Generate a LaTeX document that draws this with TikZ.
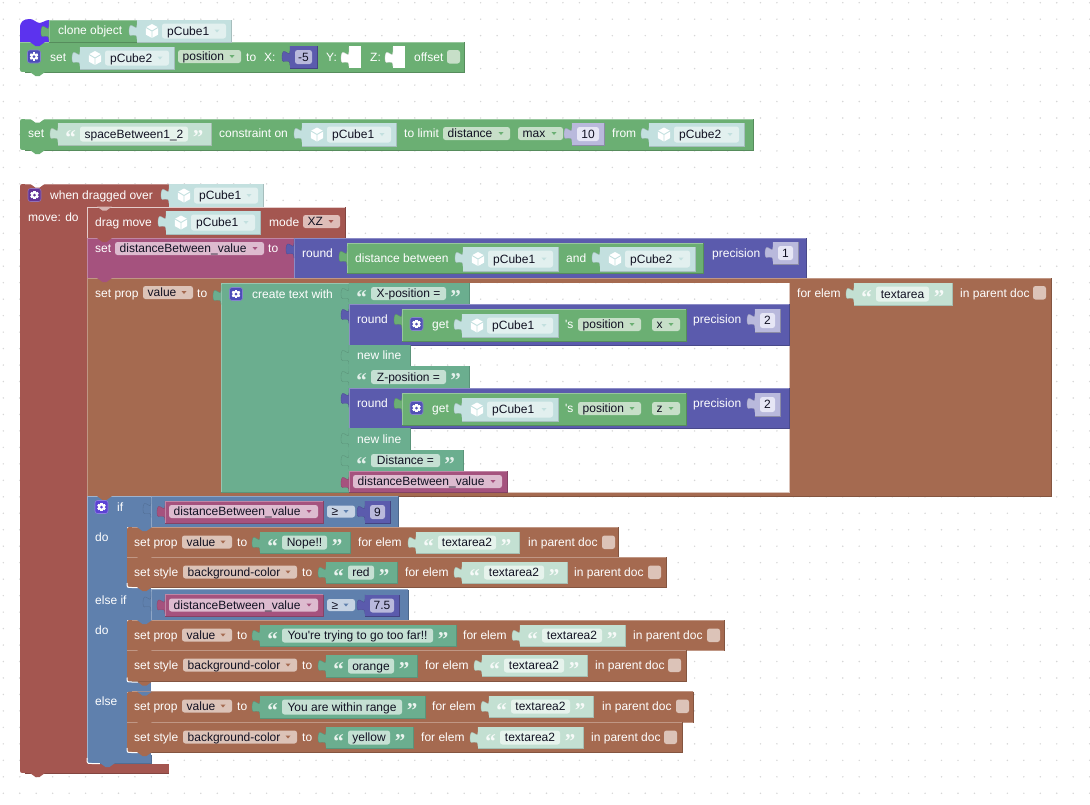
\documentclass[tikz,border=0pt]{standalone}
\usepackage{fontspec}
\newfontfamily\libf{Liberation Sans}
\newfontfamily\qfnt{Liberation Serif}
\definecolor{cGreen}{HTML}{6BAF73}
\definecolor{cGreenF}{HTML}{C7DFC8}
\definecolor{cText}{HTML}{6BAE8F}
\definecolor{cTextF}{HTML}{C5E0D3}
\definecolor{cTextL}{HTML}{C3E0D2}
\definecolor{cTextLF}{HTML}{E6F3EC}
\definecolor{cNavy}{HTML}{5B5BAD}
\definecolor{cNumL}{HTML}{B9B9DC}
\definecolor{cNumF}{HTML}{E6E6F5}
\definecolor{cMaroon}{HTML}{A45650}
\definecolor{cBrown}{HTML}{A56A50}
\definecolor{cBrownF}{HTML}{DCC3B8}
\definecolor{cPurple}{HTML}{A5527E}
\definecolor{cPurpleF}{HTML}{DDBBCF}
\definecolor{cBlue}{HTML}{5F80AD}
\definecolor{cBlueF}{HTML}{C5D2E3}
\definecolor{cObj}{HTML}{C3E0DF}
\definecolor{cObjF}{HTML}{E2F0EF}
\definecolor{cHat}{HTML}{5C33EE}
\definecolor{cMarF}{HTML}{DEBDB8}
\definecolor{cDot}{HTML}{D6D6D6}
\definecolor{cInk}{HTML}{111122}
\tikzset{
  wlab/.style={anchor=base west,inner sep=0pt,text=white,font=\libf\fontsize{12}{14}\selectfont},
  flab/.style={inner sep=0pt,text=cInk,font=\libf\fontsize{12}{14}\selectfont},
  qlab/.style={anchor=base,inner sep=0pt,font=\qfnt\bfseries\fontsize{21}{21}\selectfont},
  fieldbox/.style={rounded corners=2.5pt},
}
% tab on the left of an input block
\newcommand\ptab[3]{\filldraw[fill=#3,draw=#3!85!black,line width=.35pt] (#1,#2+0) -- (#1,#2+4.5) .. controls (#1,#2+14.5) and (#1-8,#2-3.5) .. (#1-8,#2+12) .. controls (#1-8,#2+20.5) and (#1,#2+9.5) .. (#1,#2+19.5);}
% bevelled rectangle
\newcommand\rblk[5]{\fill[#5] (#1,#2) rectangle (#3,#4);
  \draw[#5!70!white,line width=.7pt] (#1,#4) -- (#1,#2) -- (#3,#2);
  \draw[#5!80!black,line width=.7pt] (#1,#4) -- (#3,#4) -- (#3,#2);}
% rectangle with rounded left corners: x1 y1 x2 y2 colour rtop rbottom
\newcommand\lblk[7]{\fill[#5] (#3,#2) -- (#1+#6,#2) .. controls (#1,#2) and (#1,#2) .. (#1,#2+#6) -- (#1,#4-#7) .. controls (#1,#4) and (#1,#4) .. (#1+#7,#4) -- (#3,#4) -- cycle;
  \draw[#5!80!black,line width=.7pt] (#1+#7,#4) -- (#3,#4) -- (#3,#2);
  \draw[#5!70!white,line width=.7pt] (#3,#2) -- (#1+#6,#2);}
\newcommand\bump[3]{\fill[#3] (#1,#2) -- (#1+5.5,#2+4) -- (#1+9.5,#2+4) -- (#1+15,#2) -- cycle;}
\newcommand\lab[3]{\node[wlab] at (#1,#2+4.2) {#3};}
\newcommand\cubeic[2]{\begin{scope}[shift={({#1},{#2})}]
  \fill[white] (0,-7) -- (6.2,-3.6) -- (6.2,3.6) -- (0,7) -- (-6.2,3.6) -- (-6.2,-3.6) -- cycle;
  \draw[cObj,line width=.9pt] (-6.2,-3.6) -- (0,0) -- (6.2,-3.6) (0,0) -- (0,7);
  \end{scope}}
\newcommand\gearic[3]{\begin{scope}[shift={({#1},{#2})}]
  \filldraw[fill=#3,draw=#3!70!white,line width=.6pt,rounded corners=2.5pt] (-6.5,-6.5) rectangle (6.5,6.5);
  \foreach \a in {0,60,...,300}{\fill[white,rotate=\a] (-1.1,-4.2) rectangle (1.1,4.2);}
  \fill[white] (0,0) circle (3.3);
  \fill[#3] (0,0) circle (1.5);
  \end{scope}}
% dropdown: x1 x2 y1 y2 text bg triangle
\newcommand\dd[7]{\fill[#6,fieldbox] (#1,#3) rectangle (#2,#4);
  \node[flab,anchor=base west] at ({#1+4.5},{((#3)+(#4))/2+4.2}) {#5};
  \fill[#7] ({#2-11.5},{((#3)+(#4))/2-1.5}) -- ({#2-6.5},{((#3)+(#4))/2-1.5}) -- ({#2-9},{((#3)+(#4))/2+1.5}) -- cycle;}
% object block
\newcommand\ob[5]{\ptab{#1}{#3}{cObj}\fill[cObj] (#1,#3) rectangle (#2,#4);
  \draw[cObj!85!black,line width=.5pt] (#1,#4) -- (#2,#4) -- (#2,#3);
  \cubeic{#1+15}{((#3)+(#4))/2}
  \fill[cObjF,fieldbox] (#1+25,#3+3.5) rectangle (#2-5,#4-3.5);
  \node[flab,anchor=base west] at ({#1+30},{((#3)+(#4))/2+4.2}) {#5};
  \fill[cObj] ({#2-16.5},{((#3)+(#4))/2-1.5}) -- ({#2-11.5},{((#3)+(#4))/2-1.5}) -- ({#2-14},{((#3)+(#4))/2+1.5}) -- cycle;}
% text block: x1 x2 y1 y2 text bg field
\newcommand\tb[7]{\ptab{#1}{#3}{#6}\fill[#6] (#1,#3) rectangle (#2,#4);
  \draw[#6!85!black,line width=.5pt] (#1,#4) -- (#2,#4) -- (#2,#3);
  \fill[#7,fieldbox] (#1+22,#3+3.5) rectangle (#2-23,#4-3.5);
  \node[flab,anchor=base] at ({#1/2+#2/2-0.5},{((#3)+(#4))/2+4.2}) {#5};
  \node[qlab,text=white!85!#6] at ({#1+12.5},{((#3)+(#4))/2+10.5}) {“};
  \node[qlab,text=white!85!#6] at ({#2-13},{((#3)+(#4))/2+10.5}) {”};}
% number block: x1 x2 y1 y2 text bg field
\newcommand\nm[7]{\ptab{#1}{#3}{#6}\fill[#6] (#1,#3) rectangle (#2,#4);
  \draw[#6!75!black,line width=.5pt] (#1,#4) -- (#2,#4) -- (#2,#3);
  \fill[#7,fieldbox] (#1+5,#3+4) rectangle (#2-5,#4-4);
  \node[flab,anchor=base] at ({#1/2+#2/2},{((#3)+(#4))/2+4.2}) {#5};}
\newcommand\chk[3]{\fill[#3,rounded corners=2.5pt] (#1,#2) rectangle (#1+13,#2+13.5);}
% variable block
\newcommand\vb[4]{\ptab{#1}{#3}{cPurple}\rblk{#1}{#3}{#2}{#4}{cPurple}
  \dd{#1+4}{#2-5}{#3+4}{#3+17}{distanceBetween\_value}{cPurpleF}{cPurple}}
% brown row end: text for elem x, tb x1 x2, doc x, chk x, centre y
\newcommand\rowend[6]{\lab{#1}{#6}{for elem}
  \tb{#2}{#3}{#6-10}{#6+11}{textarea2}{cTextL}{cTextLF}
  \lab{#4}{#6}{in parent doc}\chk{#5}{#6-6.5}{cBrownF}}
\newcommand\spropstart[1]{\lab{134}{#1}{set prop}\dd{182}{232}{#1-6.5}{#1+6.5}{value}{cBrownF}{cBrown}\lab{237}{#1}{to}}
\newcommand\sstylestart[1]{\lab{134}{#1}{set style}\dd{183}{297}{#1-6.5}{#1+6.5}{background-color}{cBrownF}{cBrown}\lab{302}{#1}{to}}
% round/get row
\newcommand\rowround[3]{% y1 y2 axis
  \ptab{349}{#1}{cNavy}\rblk{349}{#1}{789}{#2}{cNavy}
  \lab{357}{#1+15}{round}
  \ptab{402}{#1+5}{cGreen}\rblk{402}{#1+5}{686}{#1+37}{cGreen}
  \gearic{416.5}{#1+20}{cNavy!90!blue}
  \lab{432}{#1+20}{get}
  \ob{462}{558}{#1+10}{#1+33}{pCube1}
  \lab{565}{#1+20}{'s}
  \dd{578}{641}{#1+14}{#1+27}{position}{cGreenF}{cGreen}
  \dd{652}{680}{#1+14}{#1+27}{#3}{cGreenF}{cGreen}
  \lab{693}{#1+15}{precision}
  \nm{755}{780}{#1+5}{#1+28}{2}{cNumL}{cNumF}}
\newcommand\rowif[5]{% y1 y2 num-x2 field text
  \rblk{151}{#1}{#3}{#2}{cBlue}
  \ptab{151}{#1+2}{cBlue}
  \vb{165}{323}{#1+5}{#1+27}
  \dd{327}{355}{#1+9.5}{#1+21.5}{≥}{cBlueF}{cBlue}
  \nm{365}{#4}{#1+5}{#1+27}{#5}{cNavy}{cNumL}}
\begin{document}
\begin{tikzpicture}[x=1pt,y=-1pt]
\useasboundingbox (0,0) rectangle (1090,804);
\fill[white] (0,0) rectangle (1090,804);
\foreach \i in {0,...,66}{\foreach \j in {0,...,48}{\fill[cDot] (3.3+\i*16.46,2.7+\j*16.47) circle (.8);}}

%% ---- clone / set stack
\fill[cHat] (49,42) -- (20,42) -- (20,28) .. controls (20,21) and (24,19) .. (30,19) .. controls (34,19) and (36,23) .. (40,23) .. controls (43,23) and (45,20) .. (49,20) -- cycle;
\lblk{20}{42}{464}{72}{cGreen}{0}{5}
\bump{30}{72}{cGreen}
\bump{30}{42}{cHat}
\rblk{49}{20}{137}{42}{cGreen}
\ptab{49}{21}{cGreen}
\lab{58}{30}{clone object}
\ob{137}{231}{20}{42}{pCube1}
\gearic{34}{56.5}{cNavy!85!blue}
\lab{50}{57}{set}
\ob{80}{174}{47}{69}{pCube2}
\dd{178}{241}{50}{63}{position}{cGreenF}{cGreen}
\lab{246}{57}{to}
\lab{264}{57}{X:}
\nm{290}{317}{46}{68}{-5}{cNavy}{cNumL}
\lab{326}{57}{Y:}
\fill[white] (349,46) rectangle (361,68);
\ptab{349}{47}{white}
\lab{370}{57}{Z:}
\fill[white] (393,46) rectangle (405,68);
\ptab{393}{47}{white}
\lab{414}{57}{offset}
\chk{447}{50}{cGreenF}

%% ---- constraint
\lblk{20}{119}{753}{150}{cGreen}{5}{5}
\bump{30}{150}{cGreen}
\bump{30}{118.5}{white}
\lab{28}{133}{set}
\tb{58}{211}{123}{145}{spaceBetween1\_2}{cTextL}{cTextLF}
\lab{219}{133}{constraint on}
\ob{302}{396}{123}{146}{pCube1}
\lab{404}{133}{to limit}
\dd{443}{510}{127}{140}{distance}{cGreenF}{cGreen}
\dd{518}{563}{127}{140}{max}{cGreenF}{cGreen}
\nm{572}{604}{123}{145}{10}{cNumL}{cNumF}
\lab{612}{133}{from}
\ob{649}{744}{123}{146}{pCube2}

%% ---- big maroon block
\lblk{20}{184}{87}{773}{cMaroon}{5}{5}
\fill[cMaroon] (87,184) rectangle (169,207);
\draw[cMaroon!70!white,line width=.7pt] (25,184) -- (169,184);
\fill[cMaroon] (87,764) rectangle (169,773);
\draw[cMaroon!80!black,line width=.7pt] (25,773) -- (169,773);
\bump{30}{773}{cMaroon}
\bump{30}{183.5}{white}
\gearic{34.5}{195}{cHat!55!cPurple!80!black}
\lab{50}{195}{when dragged over}
\ob{169}{263}{184}{207}{pCube1}
\lab{28}{217}{move: do}

% drag move
\rblk{87}{207}{345}{238}{cMaroon}
\draw[white!70!cMaroon,line width=.4pt] (87,238) -- (87,207) -- (345,207);
\bump{97}{206.5}{white!55!cMaroon}
\lab{95}{222}{drag move}
\ob{166}{260}{211}{234}{pCube1}
\lab{269}{222}{mode}
\dd{303}{340}{215}{228}{XZ}{cMarF}{cMaroon}

% set distance
\rblk{87}{238}{294}{278}{cPurple}
\bump{97}{238}{cMaroon}
\lab{95}{248}{set}
\dd{115}{264}{242}{255}{distanceBetween\_value}{cPurpleF}{cPurple}
\lab{268}{248}{to}
% round
\rblk{294}{238}{806}{278}{cNavy}
\ptab{294}{238.5}{cNavy}
\lab{302}{253}{round}
\rblk{347}{243}{703}{273}{cGreen}
\ptab{347}{246}{cGreen}
\lab{355}{258}{distance between}
\ob{463}{558}{247}{271}{pCube1}
\lab{566}{258}{and}
\ob{600}{695}{247}{271}{pCube2}
\lab{712}{253}{precision}
\nm{773}{798}{242}{264}{1}{cNumL}{cNumF}

% set prop frame
\fill[cBrown] (87,278) rectangle (1051,283);
\fill[cBrown] (87,283) rectangle (221,492);
\fill[cBrown] (789,283) rectangle (1051,492);
\fill[cBrown] (87,492) rectangle (1051,496);
\draw[cBrown!70!white,line width=.7pt] (87,496) -- (87,278) -- (1051,278);
\draw[cBrown!80!black,line width=.7pt] (87,496) -- (1051,496) -- (1051,278);
\draw[white!60!cBrown,line width=.6pt] (789,283) -- (789,492) -- (221,492);
\bump{97}{278}{cPurple}
\lab{95}{293}{set prop}
\dd{143}{193}{286}{299}{value}{cBrownF}{cBrown}
\lab{197}{293}{to}
% create text
\fill[cText] (221,283) rectangle (349,492);
\draw[cText!85!black,line width=.6pt] (221,492) -- (349,492) -- (349,283);
\draw[cText!70!white,line width=.6pt] (221,492) -- (221,283) -- (349,283);
\ptab{221}{285}{cText}
\gearic{236}{294}{cNavy!85!blue}
\lab{252}{294}{create text with}

\newcommand\txrow[4]{\ptab{349}{#1}{cText}\fill[cText] (349,#1) rectangle (#3,#2);
  \draw[cText!85!black,line width=.5pt] (349,#2) -- (#3,#2) -- (#3,#1);
  \fill[cTextF,fieldbox] (371,#1+4) rectangle (#3-23,#2-4);
  \node[flab,anchor=base] at (349/2+#3/2-0.5,#1/2+#2/2+4.2) {#4};
  \node[qlab,text=white!80!cText] at (361.5,#1/2+#2/2+10.5) {“};
  \node[qlab,text=white!80!cText] at (#3-13.5,#1/2+#2/2+10.5) {”};}
\newcommand\nlrow[2]{\ptab{349}{#1}{cText}\fill[cText] (349,#1) rectangle (410,#2);
  \draw[cText!85!black,line width=.5pt] (349,#2) -- (410,#2) -- (410,#1);
  \lab{357}{#1/2+#2/2}{new line}}
\txrow{283}{304}{469}{X-position =}
\rowround{304}{345}{x}
\nlrow{345}{366}
\txrow{366}{388}{469}{Z-position =}
\rowround{388}{428}{z}
\nlrow{428}{450}
\txrow{450}{471}{463}{Distance =}
\ptab{349}{472}{cPurple}\rblk{349}{471}{507}{492}{cPurple}
\dd{353}{502}{475}{488}{distanceBetween\_value}{cPurpleF}{cPurple}

% for elem (main)
\lab{797}{293}{for elem}
\tb{854}{952}{283}{305}{textarea}{cTextL}{cTextLF}
\lab{960}{293}{in parent doc}
\chk{1033}{286}{cBrownF}

%% ---- if block
\fill[cBlue] (87,496) rectangle (127,763);
\fill[cBlue] (127,496) rectangle (151,527);
\fill[cBlue] (127,587) rectangle (151,620);
\fill[cBlue] (127,650) rectangle (151,692);
\fill[cBlue] (127,722) rectangle (151,763);
\draw[white!40!cBlue,line width=.7pt] (87,760) -- (87,496) -- (398,496);
\draw[white,line width=1pt] (87,758) .. controls (87,763.5) and (87,763.5) .. (92,763.5) -- (100,763.5);
\draw[cBlue!85!black,line width=.6pt] (100,763.5) -- (151,763.5) -- (151,755);
\bump{97}{496}{cBrown}
\bump{100}{763}{cBlue}
\gearic{101.5}{507}{cHat!60!cNavy}
\lab{117}{507}{if}
\lab{95}{537}{do}
\lab{95}{600}{else if}
\lab{95}{630}{do}
\lab{95}{701}{else}
\rowif{496}{527}{398}{390}{9}
\rowif{589.5}{620}{408}{399}{7.5}

% do 1
\lblk{127}{527}{618}{557}{cBrown}{5}{0}
\draw[cBrown!70!white,line width=.5pt] (127,557) -- (618,557);
\lblk{127}{557}{666}{587}{cBrown}{0}{5}
\draw[white,line width=1pt] (127,583) .. controls (127,587.5) and (127,587.5) .. (132,587.5) -- (138,587.5);
\bump{137}{527}{cBlue}
\bump{137}{557}{cBrown}
\bump{137}{587}{cBrown}
\spropstart{542}
\tb{260}{350}{532}{553}{Nope!!}{cText}{cTextF}
\rowend{358}{416}{519}{528}{602}{542}
\sstylestart{572}
\tb{326}{397}{562}{583}{red}{cText}{cTextF}
\rowend{405}{462}{567}{574}{648}{572}

% do 2
\lblk{127}{620}{724}{650}{cBrown}{5}{0}
\draw[cBrown!70!white,line width=.5pt] (127,650) -- (724,650);
\lblk{127}{650}{686}{681.5}{cBrown}{0}{5}
\draw[white,line width=1pt] (127,677.5) .. controls (127,682) and (127,682) .. (132,682) -- (138,682);
\bump{137}{620}{cBlue}
\bump{137}{650}{cBrown}
\bump{137}{681.5}{cBrown}
\spropstart{635}
\tb{260}{456}{625}{646}{You're trying to go too far!!}{cText}{cTextF}
\rowend{463}{520}{625}{633}{707}{635}
\sstylestart{665}
\tb{326}{417}{655}{677}{orange}{cText}{cTextF}
\rowend{425}{482}{587}{595}{668}{665}

% else
\lblk{127}{691.5}{693}{722}{cBrown}{5}{0}
\draw[cBrown!70!white,line width=.5pt] (127,722) -- (693,722);
\lblk{127}{722}{682}{752}{cBrown}{0}{5}
\draw[white,line width=1pt] (127,748) .. controls (127,752.5) and (127,752.5) .. (132,752.5) -- (138,752.5);
\bump{137}{691.5}{cBlue}
\bump{137}{722}{cBrown}
\bump{137}{752}{cBrown}
\spropstart{706}
\tb{260}{425}{696}{718}{You are within range}{cText}{cTextF}
\rowend{432}{489}{593}{602}{676}{706}
\sstylestart{737}
\tb{326}{413}{727}{748}{yellow}{cText}{cTextF}
\rowend{421}{478}{583}{591}{664}{737}
\end{tikzpicture}
\end{document}
